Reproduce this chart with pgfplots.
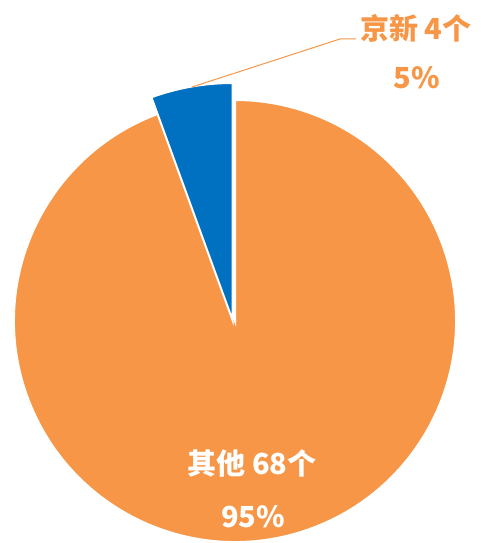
\documentclass[border=0pt]{standalone}
\usepackage{pgfplots}
\usepackage{pgfplotstable}
\usepackage{fontspec}
\pgfplotsset{compat=1.18}
\newfontfamily\cjk{Noto Sans CJK SC}
\definecolor{pieorange}{HTML}{F79646}
\definecolor{pieblue}{HTML}{0070C0}
\pgfplotstableread{
name count
jingxin 4
other 68
}\piedata
\begin{document}
\begin{tikzpicture}
\pgfplotstablegetelem{0}{count}\of\piedata \let\va\pgfplotsretval
\pgfplotstablegetelem{1}{count}\of\piedata \let\vb\pgfplotsretval
\pgfmathsetmacro{\angA}{360*\va/(\va+\vb)}
\pgfmathsetmacro{\endA}{90+\angA}
\begin{axis}[
  scale only axis, width=480pt, height=543pt,
  xmin=0, xmax=480, ymin=0, ymax=543,
  hide axis, ticks=none, clip=false,
  anchor=south west, at={(0,0)},
]
% other slice
\fill[pieorange, draw=white, line width=2pt]
  (axis cs:235,222) -- ++(\endA:221pt) arc[start angle=\endA, end angle=450, radius=221pt] -- cycle;
% jingxin slice
\fill[pieblue, draw=white, line width=2pt]
  (axis cs:232.5,223) -- ++(90:237pt) arc[start angle=90, end angle=\endA, radius=237pt] -- cycle;
\addplot[pieorange, line width=1pt, mark=none] coordinates {(192,456) (340,504) (356,504)};
\node[text=pieorange, font=\cjk\bfseries\fontsize{29}{32}\selectfont] at (axis cs:416,515) {京新 4个};
\node[text=pieorange, font=\cjk\bfseries\fontsize{29}{32}\selectfont] at (axis cs:417,465) {5\%};
\node[text=white, font=\cjk\bfseries\fontsize{29}{32}\selectfont] at (axis cs:252,80) {其他 68个};
\node[text=white, font=\cjk\bfseries\fontsize{29}{32}\selectfont] at (axis cs:253,26) {95\%};
\end{axis}
\pgfresetboundingbox
\useasboundingbox (0,0) rectangle (480pt,543pt);
\end{tikzpicture}
\end{document}
